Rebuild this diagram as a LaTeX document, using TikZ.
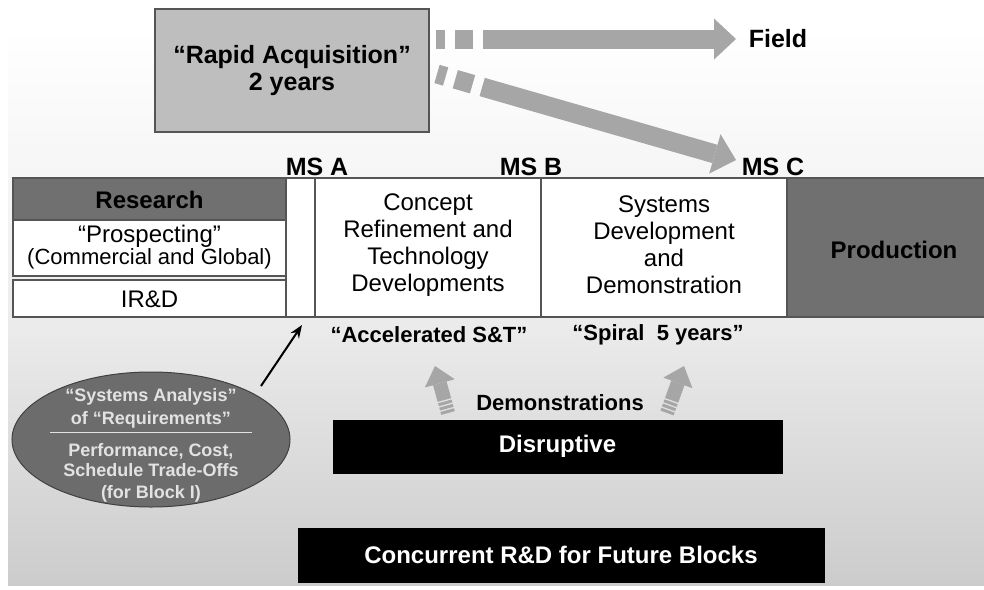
\documentclass[tikz,border=0pt]{standalone}
\usepackage{fontspec}
\setmainfont{Liberation Sans}
\usetikzlibrary{arrows.meta,calc,shapes.geometric}
\definecolor{boxline}{HTML}{555555}
\definecolor{darkfill}{HTML}{707070}
\definecolor{rapidfill}{HTML}{BEBEBE}
\definecolor{arrgray}{HTML}{A6A6A6}
\definecolor{ellfill}{HTML}{6C6C6C}
\definecolor{elltext}{HTML}{E2E2E2}
\newcommand{\fsz}[2]{\fontsize{#1}{#2}\selectfont}
\begin{document}
\begin{tikzpicture}[x=1pt,y=-1pt,
  bx/.style={draw=boxline, line width=1.3pt, inner sep=0pt, outer sep=0pt},
  txt/.style={inner sep=0pt, align=center},
  btxt/.style={txt, font=\bfseries\fsz{25}{27}},
  rtxt/.style={txt, font=\fsz{24}{27}},
  ctxt/.style={txt, font=\bfseries\fsz{22}{24}},
  etxt/.style={txt, anchor=base, text=elltext, font=\bfseries\fsz{18}{20}},
  fat/.style={draw=arrgray, line width=19pt, line cap=butt,
    dash pattern=on 9pt off 10pt on 18pt off 10pt on 1000pt,
    -{Triangle[length=22pt,width=41pt,line width=0pt]}},
  upfat/.style={draw=arrgray, line width=14pt, line cap=butt,
    dash pattern=on 3pt off 1.5pt on 3pt off 1.5pt on 3pt off 1.5pt on 300pt,
    -{Triangle[length=18pt,width=31pt,line width=0pt]}},
  blk/.style={fill=black, draw=black, inner sep=0pt, outer sep=0pt, text=white,
    font=\bfseries\fsz{24}{26}}
]
\useasboundingbox (0,0) rectangle (984,589);
\fill[white] (0,0) rectangle (984,589);
\shade[top color=white, bottom color=black!20, middle color=black!7]
  (8,28) rectangle (984,585);

% Rapid acquisition
\node[bx, fill=rapidfill, minimum width=274pt, minimum height=123pt] (rapid) at (292,70.5) {};
\node[btxt] (rapidtxt) at (292,71) {“Rapid Acquisition”\\2 years};

% fat arrows
\node[btxt] (field) at (778,39) {Field};
\node[btxt] (msa) at (317,167) {MS A};
\node[btxt] (msb) at (531,167) {MS B};
\node[btxt] (msc) at (773,167) {MS C};
\coordinate (f1) at (436,39);
\coordinate (f2) at (736,39);
\coordinate (d1) at (437,74);
\coordinate (d2) at (736,160);
\draw[fat] (f1) -- (f2);
\draw[fat] (d1) -- (d2);

% main band
\node[bx, fill=darkfill, minimum width=273pt, minimum height=42pt] (research) at (149.5,199) {};
\node[txt, font=\bfseries\fsz{24}{26}] (researchtxt) at (149.5,200) {Research};
\node[bx, fill=white, minimum width=273pt, minimum height=56pt] (prosp) at (149.5,248) {};
\node[txt, font=\fsz{24}{26}] (prosptxt1) at (149.5,236) {“Prospecting”};
\node[txt, font=\fsz{22}{24}] (prosptxt2) at (149.5,259) {(Commercial and Global)};
\node[bx, fill=white, minimum width=273pt, minimum height=37pt] (ird) at (149.5,298.5) {};
\node[txt, font=\fsz{24}{26}] (irdtxt) at (149.5,299) {IR\&D};
\node[bx, fill=white, minimum width=29pt, minimum height=139pt] (col) at (300.5,247.5) {};
\node[bx, fill=white, minimum width=226pt, minimum height=139pt] (concept) at (428,247.5) {};
\node[rtxt] (concepttxt) at (428,245) {Concept\\Refinement and\\Technology\\Developments};
\node[bx, fill=white, minimum width=246pt, minimum height=139pt] (systems) at (664,247.5) {};
\node[rtxt] (systemstxt) at (664,245) {Systems\\Development\\and\\Demonstration};
\node[bx, fill=darkfill, minimum width=213pt, minimum height=139pt] (prod) at (893.5,247.5) {};
\node[txt, font=\bfseries\fsz{24}{26}] (prodtxt) at (894,250) {Production};

% lower labels
\node[ctxt] (accel) at (429,335) {“Accelerated S\&T”};
\node[ctxt] (spiral) at (658,335) {“Spiral\ \ 5 years”};
\node[ctxt] (demo) at (560,403) {Demonstrations};
\node[blk, minimum width=449pt, minimum height=53pt] (disrupt) at (557.5,446.5) {Disruptive};
\node[blk, minimum width=526pt, minimum height=54pt] (concur) at (561,555) {Concurrent R\&D for Future Blocks};

\coordinate (u1a) at (448,413);
\coordinate (u1b) at (435,366);
\coordinate (u2a) at (667,413);
\coordinate (u2b) at (684,366);
\draw[upfat] (u1a) -- (u1b);
\draw[upfat] (u2a) -- (u2b);

% ellipse
\node[ellipse, draw=black!75, line width=1pt, fill=ellfill, minimum width=278pt, minimum height=135pt, inner sep=0pt] (ell) at (151,439.5) {};
\node[etxt] (e1) at (151,401.5) {“Systems Analysis”};
\node[etxt] (e2) at (151,424) {of “Requirements”};
\coordinate (el1) at (50,432);
\coordinate (el2) at (252,432);
\draw[elltext, line width=1pt] (el1) -- (el2);
\node[etxt] (e3) at (151,456) {Performance, Cost,};
\node[etxt] (e4) at (151,476.5) {Schedule Trade-Offs};
\node[etxt] (e5) at (151,498) {(for Block I)};

\coordinate (atail) at (261,386);
\coordinate (ahead) at (302,325);
\draw[line width=2pt, -{Stealth[length=13pt,width=10pt]}] (atail) -- (ahead);
\end{tikzpicture}
\end{document}
